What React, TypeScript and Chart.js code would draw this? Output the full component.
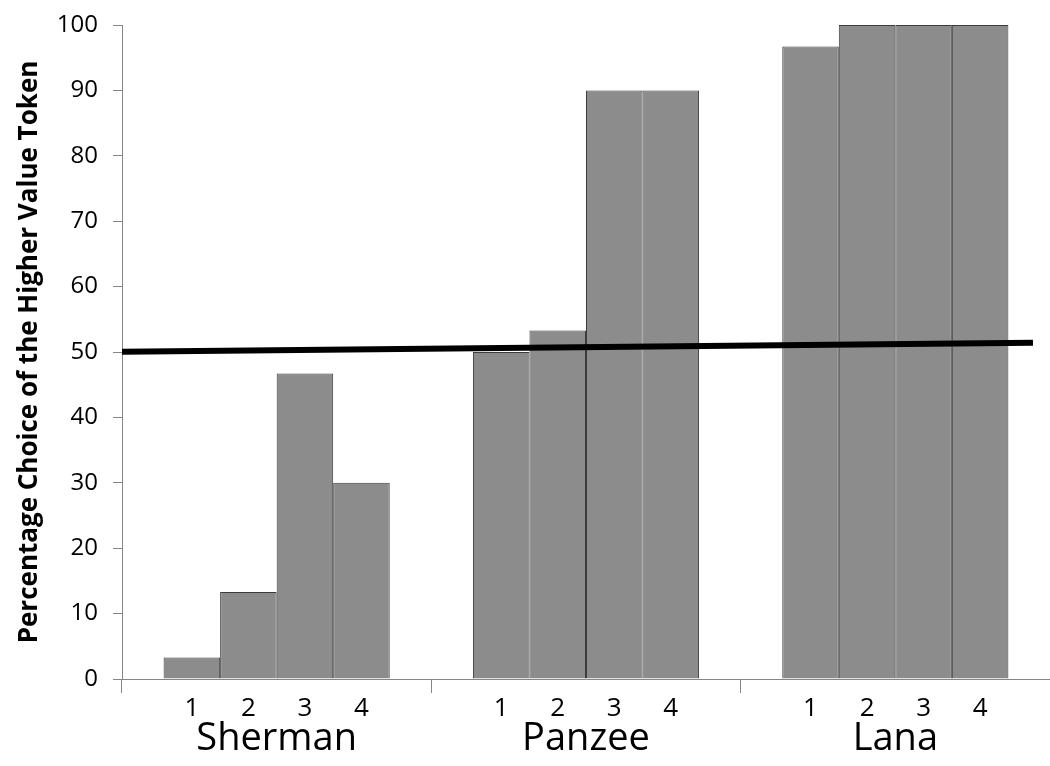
import React, { useEffect, useRef } from "react";
import { Chart, registerables } from "chart.js";

Chart.register(...registerables);

const groups = ["Sherman", "Panzee", "Lana"];
const sessionLabels = ["1", "2", "3", "4"];
const session1 = [3.3, 50, 96.7];
const session2 = [13.3, 53.3, 100];
const session3 = [46.7, 90, 100];
const session4 = [30, 90, 100];
const chanceLineX = [-0.5, 2.445];
const chanceLineY = [50.05, 51.4];
const yTitle = "Percentage Choice of the Higher Value Token";

const FONT = "'Open Sans', 'Noto Sans', sans-serif";

const labelPlugin = {
  id: "groupLabels",
  afterDraw(chart: any) {
    const { ctx, chartArea } = chart;
    const xScale = chart.scales.x;
    ctx.save();
    ctx.fillStyle = "#000";
    ctx.textAlign = "center";
    ctx.textBaseline = "middle";
    ctx.font = `26px ${FONT}`;
    for (let d = 0; d < sessionLabels.length; d++) {
      const meta = chart.getDatasetMeta(d);
      meta.data.forEach((bar: any) => {
        ctx.fillText(sessionLabels[d], bar.x, chartArea.bottom + 30);
      });
    }
    ctx.font = `38px ${FONT}`;
    groups.forEach((g, i) => {
      ctx.fillText(g, xScale.getPixelForValue(i), chartArea.bottom + 60);
    });
    ctx.restore();
  },
};

export default function App() {
  const ref = useRef<HTMLCanvasElement | null>(null);
  useEffect(() => {
    if (!ref.current) return;
    const barStyle = {
      backgroundColor: "#8c8c8c",
      borderColor: "#3c3c3c",
      borderWidth: 1,
      barPercentage: 1,
      categoryPercentage: 0.731,
      order: 1,
    };
    const chart = new Chart(ref.current, {
      type: "bar",
      data: {
        labels: groups,
        datasets: [
          { ...barStyle, label: "1", data: session1 },
          { ...barStyle, label: "2", data: session2 },
          { ...barStyle, label: "3", data: session3 },
          { ...barStyle, label: "4", data: session4 },
          {
            type: "line",
            label: "chance",
            parsing: false,
            data: chanceLineX.map((x, i) => ({ x, y: chanceLineY[i] })),
            borderColor: "#000",
            borderWidth: 6,
            pointRadius: 0,
            fill: false,
            order: 0,
          } as any,
        ],
      },
      options: {
        responsive: false,
        animation: false,
        layout: { padding: { top: 25, right: 0, left: 0, bottom: 0 } },
        plugins: { legend: { display: false }, tooltip: { enabled: false } },
        scales: {
          x: {
            type: "category",
            offset: true,
            grid: {
              offset: true,
              drawOnChartArea: false,
              tickLength: 14,
              color: "#868686",
            },
            border: { color: "#868686" },
            ticks: { display: false },
            afterFit: (s: any) => {
              s.height = 87;
              s.paddingLeft = 0;
              s.paddingRight = 0;
            },
          },
          y: {
            min: 0,
            max: 100,
            ticks: {
              stepSize: 10,
              color: "#000",
              padding: 15,
              font: { family: FONT, size: 24 },
            },
            grid: {
              drawOnChartArea: false,
              tickLength: 9,
              color: "#868686",
            },
            border: { color: "#868686" },
            title: {
              display: true,
              text: yTitle,
              color: "#000",
              font: { family: FONT, size: 26, weight: "bold" },
              padding: { top: 14, bottom: 0 },
            },
            afterFit: (s: any) => {
              s.width = 122;
              s.paddingTop = 0;
              s.paddingBottom = 0;
            },
          },
        },
      },
      plugins: [labelPlugin],
    });
    return () => chart.destroy();
  }, []);
  return (
    <div style={{ position: "absolute", left: 0, top: 0, width: 1050, height: 766, background: "#fff" }}>
      <canvas ref={ref} width={1050} height={766} />
    </div>
  );
}
